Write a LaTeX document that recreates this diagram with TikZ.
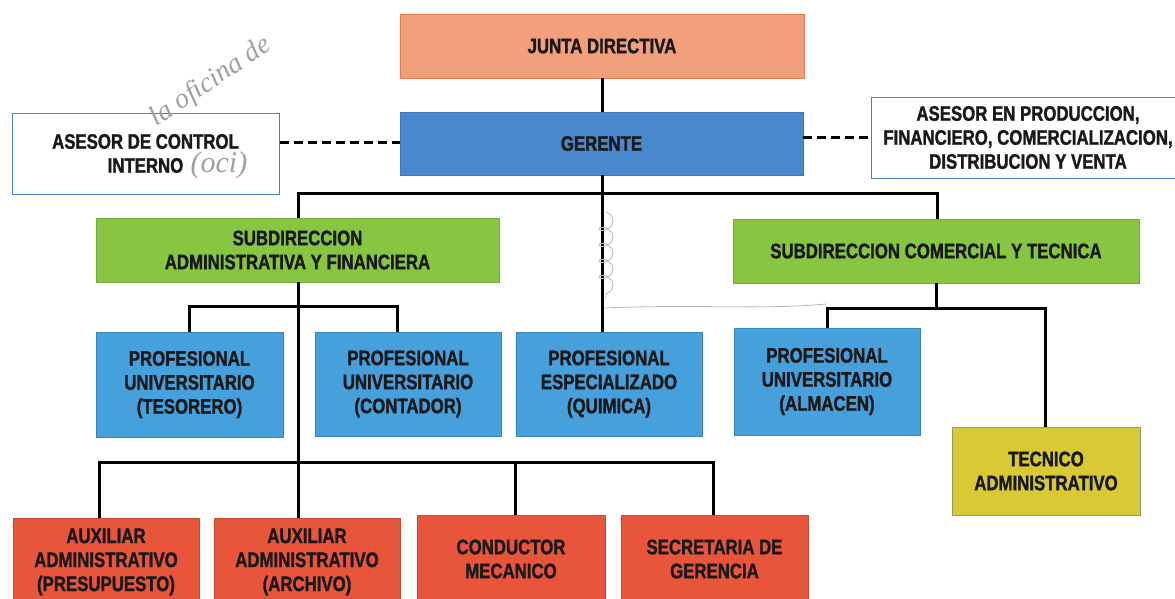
\documentclass[tikz,border=0pt]{standalone}
\usepackage{fontspec}
\setmainfont{Liberation Sans}
\newfontfamily\orgfont{Liberation Sans Bold}[FakeStretch=0.8, FakeBold=1.4]
\newfontfamily\handfont{Liberation Serif Italic}
\usetikzlibrary{decorations.pathmorphing}

\definecolor{juntafill}{HTML}{F2A07B}
\definecolor{juntaline}{HTML}{E57A4E}
\definecolor{gerfill}{HTML}{4A88CC}
\definecolor{gerline}{HTML}{3F78BA}
\definecolor{subfill}{HTML}{88C540}
\definecolor{subline}{HTML}{73AE3A}
\definecolor{proffill}{HTML}{46A0DC}
\definecolor{profline}{HTML}{3A84BE}
\definecolor{auxfill}{HTML}{E9553A}
\definecolor{auxline}{HTML}{C94A33}
\definecolor{tecfill}{HTML}{D8C935}
\definecolor{tecline}{HTML}{8E9C6A}
\definecolor{asesline}{HTML}{4A7FC6}

\begin{document}
\begin{tikzpicture}[x=1pt,y=-1pt,
  orgbox/.style={rectangle, draw, line width=0.8pt, inner sep=0pt, align=center,
    font=\orgfont\fontsize{21}{24}\selectfont, text=black!90},
  dims/.style 2 args={minimum width=#1, minimum height=#2},
  juntabox/.style={orgbox, fill=juntafill, draw=juntaline},
  gerbox/.style={orgbox, fill=gerfill, draw=gerline},
  asesbox/.style={orgbox, fill=white, draw=asesline, line width=1pt},
  subbox/.style={orgbox, fill=subfill, draw=subline},
  profbox/.style={orgbox, fill=proffill, draw=profline},
  auxbox/.style={orgbox, fill=auxfill, draw=auxline},
  tecbox/.style={orgbox, fill=tecfill, draw=tecline},
  link/.style={draw=black, line width=3pt, line join=miter},
  advice/.style={draw=black, line width=3pt, dash pattern=on 9pt off 5pt},
  pencil/.style={draw=gray!55, line width=0.8pt},
  handnote/.style={text=gray!75, font=\handfont\fontsize{28}{30}\selectfont, inner sep=0pt}]

\useasboundingbox (0,0) rectangle (1175,598);
\clip (0,0) rectangle (1175,598);
\fill[white] (0,0) rectangle (1175,598);

% --- boxes ---
\node[juntabox, dims={404}{64}] (junta) at (602,46) {JUNTA DIRECTIVA};
\node[gerbox, dims={403}{63}] (gerente) at (601.5,143.5) {GERENTE};
\node[asesbox, dims={267}{81}] (asesci) at (145.5,153.5) {ASESOR DE CONTROL\\INTERNO};
\node[asesbox, dims={314}{81}] (asesprod) at (1028,137.5)
  {ASESOR EN PRODUCCION,\\FINANCIERO, COMERCIALIZACION,\\DISTRIBUCION Y VENTA};

\node[subbox, dims={403}{64}] (subadm) at (297.5,250) {SUBDIRECCION\\ADMINISTRATIVA Y FINANCIERA};
\node[subbox, dims={406}{64}] (subcom) at (936,251) {SUBDIRECCION COMERCIAL Y TECNICA};

\node[profbox, dims={187}{105}] (tesorero) at (189.5,384.5) {PROFESIONAL\\UNIVERSITARIO\\(TESORERO)};
\node[profbox, dims={186}{104}] (contador) at (408,384) {PROFESIONAL\\UNIVERSITARIO\\(CONTADOR)};
\node[profbox, dims={186}{104}] (quimica) at (609,384) {PROFESIONAL\\ESPECIALIZADO\\(QUIMICA)};
\node[profbox, dims={186}{107}] (almacen) at (827,381.5) {PROFESIONAL\\UNIVERSITARIO\\(ALMACEN)};
\node[tecbox, dims={188}{88}] (tecnico) at (1046,471) {TECNICO\\ADMINISTRATIVO};

\node[auxbox, dims={186}{88}] (auxpres) at (106,562) {AUXILIAR\\ADMINISTRATIVO\\(PRESUPUESTO)};
\node[auxbox, dims={186}{88}] (auxarch) at (307,562) {AUXILIAR\\ADMINISTRATIVO\\(ARCHIVO)};
\node[auxbox, dims={188}{88}] (conductor) at (511,559) {CONDUCTOR\\MECANICO};
\node[auxbox, dims={187}{88}] (secretaria) at (714.5,559) {SECRETARIA DE\\GERENCIA};

% --- bus points ---
\coordinate (gbus) at (602,193);
\coordinate (gbusL) at (298,193);
\coordinate (gbusR) at (937,193);
\coordinate (abus) at (298,306);
\coordinate (abusL) at (189,306);
\coordinate (abusR) at (397,306);
\coordinate (lbusL) at (99,462);
\coordinate (lbusM) at (515,462);
\coordinate (lbusR) at (713,462);
\coordinate (cbus) at (936,308);
\coordinate (cbusL) at (827,308);
\coordinate (cbusR) at (1045,308);

% --- reporting lines ---
\draw[link] (junta.south) -- (gerente.north -| junta.south);
\draw[link] (gerente.south -| gbus) -- (quimica.north -| gbus);
\draw[link] (gbusL |- subadm.north) -- (gbusL) -- (gbusR) -- (gbusR |- subcom.north);

\draw[link] (subadm.south -| abus) -- (auxarch.north -| abus);
\draw[link] (abusL |- tesorero.north) -- (abusL) -- (abusR) -- (abusR |- contador.north);
\draw[link] (lbusL |- auxpres.north) -- (lbusL) -- (lbusR) -- (lbusR |- secretaria.north);
\draw[link] (lbusM) -- (lbusM |- conductor.north);

\draw[link] (subcom.south -| cbus) -- (cbus);
\draw[link] (cbusL |- almacen.north) -- (cbusL) -- (cbusR) -- (cbusR |- tecnico.north);

% --- advisory lines ---
\draw[advice] (asesci.east |- 0,142) -- (gerente.west |- 0,142);
\draw[advice] (gerente.east |- 0,137) -- (asesprod.west |- 0,137);

% --- pencil notes ---
\draw[pencil] (604,308) .. controls (700,304) and (760,310) .. (826,304);
\draw[pencil, decorate, decoration={coil, aspect=0.7, segment length=16pt, amplitude=7pt}]
  (606,212) -- (606,298);
\node[handnote, rotate=34, anchor=south west] (notea) at (160,132) {la oficina de};
\node[handnote, font=\handfont\fontsize{30}{32}\selectfont] (noteb) at (219,165) {(oci)};

\end{tikzpicture}
\end{document}
